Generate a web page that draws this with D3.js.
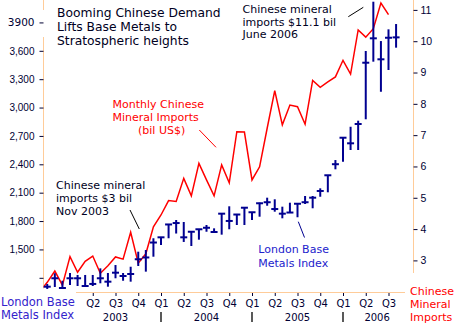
<!DOCTYPE html>
<html><head><meta charset="utf-8">
<script src="https://cdn.jsdelivr.net/npm/d3@7"></script>
<style>body{margin:0;background:#fff}svg{display:block}</style>
</head><body>
<svg id="c" width="462" height="327"></svg>
<script>
// London Base Metals Index, monthly high / low / close
const barMonths = ["2002-10","2002-11","2002-12","2003-01","2003-02","2003-03","2003-04","2003-05","2003-06","2003-07","2003-08","2003-09","2003-10","2003-11","2003-12","2004-01","2004-02","2004-03","2004-04","2004-05","2004-06","2004-07","2004-08","2004-09","2004-10","2004-11","2004-12","2005-01","2005-02","2005-03","2005-04","2005-05","2005-06","2005-07","2005-08","2005-09","2005-10","2005-11","2005-12","2006-01","2006-02","2006-03","2006-04","2006-05","2006-06","2006-07","2006-08"];
const metalsHigh  = [1135,1248,1169,1251,1230,1230,1230,1300,1251,1335,1251,1317,1476,1494,1618,1628,1764,1811,1790,1687,1713,1758,1723,1878,1956,1875,1941,1893,1994,2047,2030,1952,1994,1983,2065,2065,2146,2284,2445,2681,2797,2861,3598,4119,3703,3827,3883];
const metalsLow   = [1082,1103,1089,1124,1113,1113,1113,1142,1106,1195,1169,1159,1325,1265,1423,1547,1618,1668,1579,1536,1603,1687,1674,1656,1713,1758,1758,1811,1846,1962,1899,1829,1890,1840,1980,1935,2057,2104,2347,2427,2551,2551,2876,3485,3167,3397,3633];
const metalsClose = [1106,1195,1092,1195,1195,1113,1135,1195,1159,1254,1219,1240,1396,1415,1573,1628,1764,1779,1628,1687,1713,1729,1684,1878,1801,1869,1941,1893,1988,1999,1927,1878,1890,1983,1999,2047,2118,2284,2401,2681,2622,2826,3474,3732,3510,3738,3742];

// Monthly Chinese mineral imports, bil US$
const importMonths = ["2002-09","2002-10","2002-11","2002-12","2003-01","2003-02","2003-03","2003-04","2003-05","2003-06","2003-07","2003-08","2003-09","2003-10","2003-11","2003-12","2004-01","2004-02","2004-03","2004-04","2004-05","2004-06","2004-07","2004-08","2004-09","2004-10","2004-11","2004-12","2005-01","2005-02","2005-03","2005-04","2005-05","2005-06","2005-07","2005-08","2005-09","2005-10","2005-11","2005-12","2006-01","2006-02","2006-03","2006-04","2006-05","2006-06","2006-07"];
const imports = [2.0,2.3,2.66,2.21,3.12,2.62,2.97,3.14,2.59,2.83,3.11,3.04,3.90,2.91,3.21,4.07,4.45,4.91,4.88,5.62,5.06,6.10,5.57,5.06,6.05,5.48,7.11,7.10,5.57,5.99,7.22,8.42,7.33,7.96,7.91,7.35,8.75,8.53,8.70,8.86,9.39,8.95,10.36,10.13,10.40,11.22,10.85];

// Axis ticks
const leftTicks = [1200,1500,1800,2100,2400,2700,3000,3300,3600,3900];
const leftTickLabels = ["","1,500","1,800","2,100","2,400","2,700","3,000","3,300","3,600","3900"];
const rightTicks = [3,4,5,6,7,8,9,10,11];
const quarterMonths = ["2003-04","2003-07","2003-10","2004-01","2004-04","2004-07","2004-10","2005-01","2005-04","2005-07","2005-10","2006-01","2006-04","2006-07"];
const quarterLabels = ["Q2","Q3","Q4","Q1","Q2","Q3","Q4","Q1","Q2","Q3","Q4","Q1","Q2","Q3"];
const yearLabels = ["2003","2004","2005","2006"];
const yearCenters = [6,18,30,40.5];      // month index from Jan 2003
const yearBreaks = ["2004-01","2005-01","2006-01"];

const mIdx = s => { const [y,m] = s.split("-").map(Number); return (y-2003)*12 + (m-1); };

const svg = d3.select("#c");
const x = d3.scaleLinear().domain([0,36]).range([70,343]);
const yL = d3.scaleLinear().domain([1200,3600]).range([277.8,50.8]);
const yR = d3.scaleLinear().domain([3,11]).range([260.4,9.9]);

const orange = "#FFCC99", navy = "#000090", dark = "#000033";
const tickFont = "'Liberation Sans', Arial, sans-serif";
const vFont = "'DejaVu Sans', Verdana, sans-serif";

// frame lines
const frame = svg.append("g").attr("stroke", orange).attr("stroke-width",1);
frame.append("line").attr("x1",43.5).attr("x2",43.5).attr("y1",0).attr("y2",10);
frame.append("line").attr("x1",43.5).attr("x2",43.5).attr("y1",37).attr("y2",287);
frame.append("line").attr("x1",413.5).attr("x2",413.5).attr("y1",0).attr("y2",273);
frame.append("line").attr("x1",76).attr("x2",405).attr("y1",292.5).attr("y2",292.5);

// left axis
const gl = svg.append("g").attr("transform","translate(43.5,0)")
  .call(d3.axisLeft(yL).tickValues(leftTicks).tickSize(4).tickPadding(5)
    .tickFormat((d,i)=>leftTickLabels[i]));
gl.select(".domain").remove();
gl.selectAll("line").attr("stroke",dark);
gl.selectAll("text").attr("fill",dark).style("font-family",tickFont).style("font-size","10px");
gl.selectAll("text").filter(d=>d===3900).style("font-family",vFont).style("font-size","10.5px");

// right axis
const gr = svg.append("g").attr("transform","translate(413.5,0)")
  .call(d3.axisRight(yR).tickValues(rightTicks).tickSize(4).tickPadding(3).tickFormat(d3.format("d")));
gr.select(".domain").remove();
gr.selectAll("line").attr("stroke",dark);
gr.selectAll("text").attr("fill",dark).style("font-family",tickFont).style("font-size","10.5px");

// bottom quarter axis
const gb = svg.append("g").attr("transform","translate(0,293)")
  .call(d3.axisBottom(x).tickValues(quarterMonths.map(mIdx)).tickSize(3).tickPadding(4)
    .tickFormat((d,i)=>quarterLabels[i]));
gb.select(".domain").remove();
gb.selectAll("line").attr("stroke",dark);
gb.selectAll("text").attr("fill",dark).style("font-family",vFont).style("font-size","10px");

// year separators and labels
svg.append("g").selectAll("line").data(yearBreaks).join("line")
  .attr("x1",d=>x(mIdx(d))).attr("x2",d=>x(mIdx(d)))
  .attr("y1",312).attr("y2",322).attr("stroke","#000").attr("stroke-width",1.3);
svg.append("g").selectAll("text").data(yearLabels).join("text")
  .attr("x",(d,i)=>x(yearCenters[i])).attr("y",320.5).attr("text-anchor","middle")
  .attr("fill",dark).style("font-family",vFont).style("font-size","10px").text(d=>d);

// clip
svg.append("clipPath").attr("id","plot").append("rect")
  .attr("x",43.5).attr("y",-10).attr("width",370).attr("height",310);

// red line
const line = d3.line().x((d,i)=>x(mIdx(importMonths[i]))).y(d=>yR(d));
svg.append("path").datum(imports).attr("clip-path","url(#plot)")
  .attr("fill","none").attr("stroke","#ff0000").attr("stroke-width",1.5)
  .attr("stroke-linejoin","miter").attr("d",line);

// bars
const bars = svg.append("g").attr("stroke",navy).attr("stroke-width",2);
bars.selectAll("line.v").data(barMonths).join("line").attr("class","v")
  .attr("x1",d=>x(mIdx(d))).attr("x2",d=>x(mIdx(d)))
  .attr("y1",(d,i)=>yL(metalsHigh[i])).attr("y2",(d,i)=>yL(metalsLow[i]));
bars.selectAll("line.c").data(barMonths).join("line").attr("class","c")
  .attr("x1",d=>x(mIdx(d))-3.5).attr("x2",d=>x(mIdx(d))+3.5)
  .attr("y1",(d,i)=>yL(metalsClose[i])).attr("y2",(d,i)=>yL(metalsClose[i]));

// annotation text helper
function block(lines, x0, y0, dy, size, color, xs) {
  const t = svg.append("text").attr("fill",color).style("font-family",vFont).style("font-size",size+"px");
  lines.forEach((s,i)=>t.append("tspan").attr("x", xs ? xs[i] : x0).attr("y", y0 + i*dy).text(s));
}
block(["Booming Chinese Demand","Lifts Base Metals to","Stratospheric heights"],57,17.3,13.8,12.3,"#000022");
block(["Chinese mineral","imports $11.1 bil","June 2006"],242.5,12.7,12.8,11,"#000022");
block(["Monthly Chinese","Mineral Imports","(bil US$)"],112.5,107.5,13.2,11,"#ff0000",[112.5,112.5,138]);
block(["Chinese mineral","imports $3 bil","Nov 2003"],56,189.3,12.8,11,"#000022");
block(["London Base","Metals Index"],258.3,253.3,13.2,11,"#2222cc");
block(["London Base","Metals Index"],1,305.5,13,11.5,"#3322cc");
block(["Chinese","Mineral","Imports"],410,295,12.8,11,"#ff0000");

// pointer lines
const ptr = svg.append("g").attr("stroke-width",1);
ptr.append("line").attr("x1",130).attr("y1",210).attr("x2",139.3).attr("y2",229).attr("stroke","#000");
ptr.append("line").attr("x1",348.3).attr("y1",16.7).attr("x2",363.3).attr("y2",7.3).attr("stroke","#000");
ptr.append("line").attr("x1",199.3).attr("y1",130).attr("x2",216).attr("y2",147.3).attr("stroke","#ff0000");
ptr.append("line").attr("x1",298.3).attr("y1",221.7).attr("x2",304.5).attr("y2",237.5).attr("stroke",navy);
</script>
</body></html>
